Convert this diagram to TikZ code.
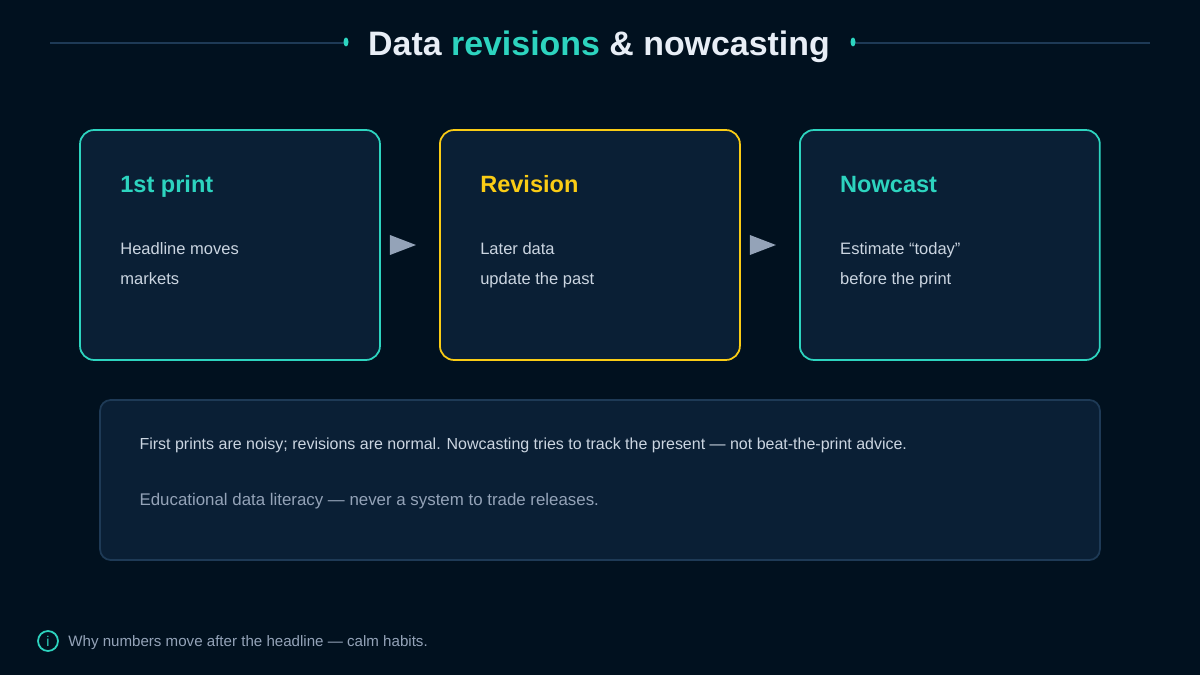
\documentclass[tikz,border=0pt]{standalone}
\usepackage{fontspec}
\setmainfont{Liberation Sans}
\usetikzlibrary{positioning,calc}
\definecolor{bgc}{HTML}{01111F}
\definecolor{boxc}{HTML}{0A1F35}
\definecolor{tealc}{HTML}{2DD4BF}
\definecolor{goldc}{HTML}{FACC15}
\definecolor{txtc}{HTML}{CBD5E1}
\definecolor{grayc}{HTML}{94A3B8}
\definecolor{titlec}{HTML}{E8EEF6}
\definecolor{linec}{HTML}{1E3A56}
\definecolor{arrc}{HTML}{94A3B8}
\tikzset{
  card/.style={draw=#1, line width=1pt, fill=boxc, rounded corners=8pt,
    minimum width=6cm, minimum height=4.6cm, inner sep=0pt, outer sep=0pt},
  head/.style={anchor=base west, inner sep=0pt, font=\fontsize{13.4}{15}\selectfont\bfseries, text=#1},
  body/.style={anchor=north west, inner sep=0pt, align=left, text=txtc,
    font=\fontsize{9.4}{17}\selectfont},
}
\begin{document}
\begin{tikzpicture}[x=0.02cm,y=-0.02cm]
  \fill[bgc] (0,0) rectangle (1200,675);
  \useasboundingbox (0,0) rectangle (1200,675);

  % title
  \node (title) at (599,47) {\fontsize{19.3}{22}\selectfont\bfseries
    \textcolor{titlec}{Data} \textcolor{tealc}{revisions} \textcolor{titlec}{\& nowcasting}};
  \draw[linec, line width=1pt] (50,43) -- (344,43);
  \draw[linec, line width=1pt] (855,43) -- (1150,43);
  \fill[tealc] (346,42) ellipse (2.5 and 4.5);
  \fill[tealc] (853,42) ellipse (2.5 and 4.5);

  % cards
  \node [card=tealc] (first) at (230,245) {};
  \node [card=goldc, right=1.2cm of first] (rev) {};
  \node [card=tealc, right=1.2cm of rev] (now) {};

  \node [head=tealc] at ($(first.north west)+(40,62)$) {1st print};
  \node [body] at ($(first.north west)+(40,112)$) {Headline moves\\markets};
  \node [head=goldc] at ($(rev.north west)+(40,62)$) {Revision};
  \node [body] at ($(rev.north west)+(40,112)$) {Later data\\update the past};
  \node [head=tealc] at ($(now.north west)+(40,62)$) {Nowcast};
  \node [body] at ($(now.north west)+(40,112)$) {Estimate “today”\\before the print};

  % arrows
  \fill[arrc] ($(first.east)+(10,-10)$) -- ($(first.east)+(36,0)$) -- ($(first.east)+(10,10)$) -- cycle;
  \fill[arrc] ($(rev.east)+(10,-10)$) -- ($(rev.east)+(36,0)$) -- ($(rev.east)+(10,10)$) -- cycle;

  % note
  \node [draw=linec, line width=1pt, fill=boxc, rounded corners=6pt,
    minimum width=20cm, minimum height=3.2cm] (note) at (600,480) {};
  \node [anchor=west, inner sep=0pt, text=txtc, font=\fontsize{9.1}{11}\selectfont]
    at ($(note.north west)+(40,46)$)
    {First prints are noisy; revisions are normal. Nowcasting tries to track the present — not beat-the-print advice.};
  \node [anchor=west, inner sep=0pt, text=grayc, font=\fontsize{9.6}{11}\selectfont]
    at ($(note.north west)+(40,102)$)
    {Educational data literacy — never a system to trade releases.};

  % footer
  \node [circle, draw=tealc, line width=1pt, minimum size=0.4cm, inner sep=0pt,
    text=tealc, font=\fontsize{8}{8}\selectfont] (info) at (48,641) {i};
  \node [anchor=base west, inner sep=0pt, text=grayc, font=\fontsize{8.6}{10}\selectfont]
    at ($(info.center)+(20,5)$) {Why numbers move after the headline — calm habits.};
\end{tikzpicture}
\end{document}
